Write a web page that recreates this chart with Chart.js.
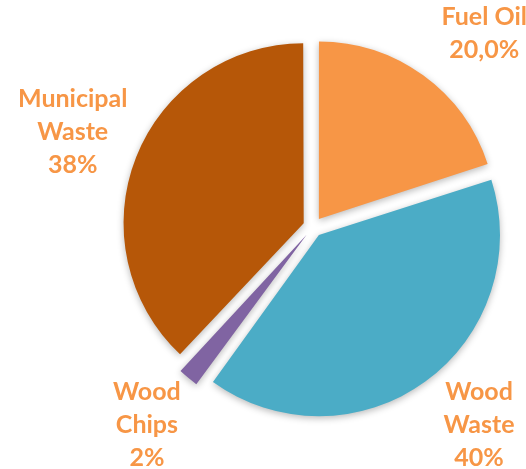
<!DOCTYPE html>
<html>
<head>
<meta charset="utf-8">
<script src="https://cdn.jsdelivr.net/npm/chart.js@4"></script>
<style>
  html, body { margin: 0; padding: 0; background: #ffffff; }
  #wrap { width: 526px; height: 469px; position: relative; }
</style>
</head>
<body>
<div id="wrap"><canvas id="c"></canvas></div>
<script>
// ---- data ----
const categories = [['Fuel Oil'], ['Wood', 'Waste'], ['Wood', 'Chips'], ['Municipal', 'Waste']];
const values = [20, 40, 2, 38];
const percentLabels = ['20,0%', '40%', '2%', '38%'];
const sliceColors = ['#F79646', '#4BACC6', '#8064A2', '#B65708'];

const labelColor = '#F79646';
const labelFont = 'bold 25px Lato, "Open Sans", sans-serif';
const lineHeight = 33;
const labelDistance = 1.46; // times outer radius
const topMargin = 17;       // min distance of a line centre from canvas top
const bottomMargin = 11;    // min distance of a line centre from canvas bottom

const shadowPlugin = {
  id: 'shadow',
  beforeDatasetsDraw(chart) {
    const ctx = chart.ctx;
    ctx.save();
    ctx.shadowColor = 'rgba(0,0,0,0.28)';
    ctx.shadowBlur = 7;
    ctx.shadowOffsetX = 0;
    ctx.shadowOffsetY = 2;
  },
  afterDatasetsDraw(chart) {
    chart.ctx.restore();
  }
};

const labelPlugin = {
  id: 'outLabels',
  afterDraw(chart) {
    const ctx = chart.ctx;
    const meta = chart.getDatasetMeta(0);
    const H = chart.height;
    ctx.save();
    ctx.fillStyle = labelColor;
    ctx.font = labelFont;
    ctx.textAlign = 'center';
    ctx.textBaseline = 'middle';
    meta.data.forEach((arc, i) => {
      const p = arc.getProps(['x', 'y', 'startAngle', 'endAngle', 'outerRadius'], true);
      const mid = (p.startAngle + p.endAngle) / 2;
      const d = p.outerRadius * labelDistance;
      let cx = p.x + Math.cos(mid) * d;
      let cy = p.y + Math.sin(mid) * d;
      const lines = chart.data.labels[i].concat([percentLabels[i]]);
      const half = (lines.length - 1) * lineHeight / 2;
      // keep the block inside the canvas, sliding along the label circle
      const minY = topMargin + half, maxY = H - bottomMargin - half;
      const clampedY = Math.min(Math.max(cy, minY), maxY);
      if (clampedY !== cy) {
        const dy = clampedY - p.y;
        const dx = Math.sqrt(Math.max(d * d - dy * dy, 0));
        cx = p.x + Math.sign(Math.cos(mid)) * dx;
        cy = clampedY;
      }
      const y0 = cy - half;
      lines.forEach((t, k) => ctx.fillText(t, cx, y0 + k * lineHeight));
    });
    ctx.restore();
  }
};

new Chart(document.getElementById('c'), {
  type: 'pie',
  data: {
    labels: categories,
    datasets: [{
      data: values,
      backgroundColor: sliceColors,
      borderWidth: 0,
      offset: 40,
      hoverOffset: 0
    }]
  },
  options: {
    responsive: true,
    maintainAspectRatio: false,
    animation: false,
    events: [],
    radius: 177,
    layout: { padding: { left: 100, right: 0, top: 0, bottom: 15 } },
    plugins: {
      legend: { display: false },
      tooltip: { enabled: false }
    }
  },
  plugins: [shadowPlugin, labelPlugin]
});
</script>
</body>
</html>
